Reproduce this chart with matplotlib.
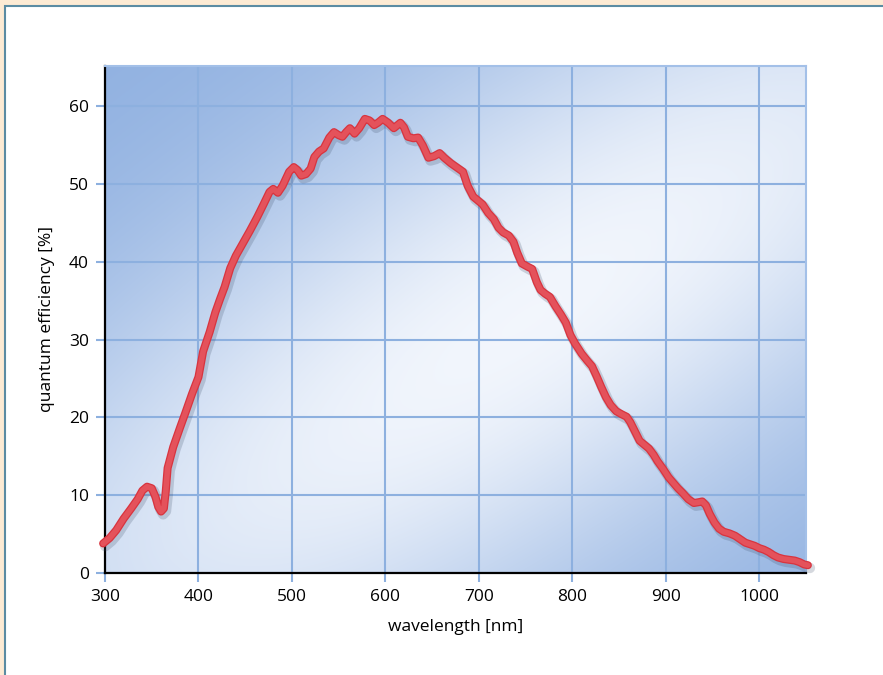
import numpy as np
import matplotlib.pyplot as plt
import matplotlib.patheffects as pe
from matplotlib.patches import Rectangle

plt.rcParams['font.family'] = ['Open Sans', 'DejaVu Sans']

# quantum efficiency curve
wavelength = [298, 305, 312, 320, 328, 335, 340, 345, 350, 354, 357, 360, 363, 365,
              367, 373, 380, 386, 393, 400, 405, 412, 418, 423, 428, 434, 440, 447,
              455, 463, 470, 476, 480, 485, 490, 497, 502, 506, 510, 515, 520, 524,
              529, 534, 540, 545, 550, 554, 558, 562, 567, 572, 578, 583, 588, 592,
              597, 603, 609, 616, 620, 624, 630, 635, 640, 646, 652, 658, 663, 670,
              676, 683, 688, 694, 700, 704, 710, 716, 721, 726, 732, 737, 741, 746,
              752, 757, 762, 766, 771, 776, 782, 788, 793, 798, 803, 810, 816, 821,
              826, 831, 836, 841, 847, 853, 858, 862, 867, 872, 877, 882, 887, 891,
              897, 903, 908, 913, 918, 924, 930, 935, 939, 943, 947, 952, 957, 962,
              968, 974, 980, 985, 990, 995, 1000, 1005, 1010, 1015, 1020, 1026, 1032,
              1038, 1043, 1048, 1052]
qe = [3.8, 4.5, 5.5, 7.0, 8.3, 9.5, 10.6, 11.1, 10.9, 9.8, 8.5, 7.9, 8.3, 10.5,
      13.5, 16.2, 18.6, 20.6, 23.0, 25.2, 28.5, 31.0, 33.5, 35.2, 36.8, 39.2, 40.8, 42.3,
      44.0, 45.8, 47.5, 49.0, 49.4, 48.9, 49.8, 51.6, 52.2, 51.8, 51.1, 51.3, 52.0, 53.5,
      54.2, 54.6, 56.0, 56.7, 56.3, 56.1, 56.7, 57.2, 56.5, 57.2, 58.4, 58.2, 57.6, 57.9,
      58.4, 57.9, 57.2, 57.9, 57.3, 56.1, 55.9, 56.0, 55.0, 53.4, 53.6, 54.0, 53.4, 52.7,
      52.2, 51.6, 49.8, 48.4, 47.8, 47.4, 46.3, 45.5, 44.4, 43.8, 43.4, 42.6, 41.2, 39.8,
      39.4, 39.1, 37.4, 36.4, 35.9, 35.5, 34.3, 33.2, 32.2, 30.6, 29.5, 28.2, 27.3, 26.6,
      25.3, 23.9, 22.6, 21.6, 20.8, 20.4, 20.1, 19.4, 18.2, 17.0, 16.5, 16.0, 15.2, 14.4,
      13.4, 12.3, 11.6, 10.9, 10.3, 9.5, 9.0, 9.1, 9.2, 8.7, 7.6, 6.5, 5.7, 5.3,
      5.1, 4.8, 4.3, 3.9, 3.7, 3.5, 3.2, 3.0, 2.7, 2.3, 2.0, 1.8, 1.7,
      1.6, 1.4, 1.1, 1.0]

xticks = [300, 400, 500, 600, 700, 800, 900, 1000]
yticks = [0, 10, 20, 30, 40, 50, 60]

grid_col = '#8db0df'

fig = plt.figure(figsize=(8.83, 6.75), dpi=100)
fig.patch.set_facecolor('#fdebd4')
fig.patches.append(Rectangle((5 / 883, -0.1), 1.2, 1.1 - 6 / 675,
                             transform=fig.transFigure, facecolor='white',
                             edgecolor='#5b8ca3', linewidth=1.5, zorder=-5))

ax = fig.add_axes([105 / 883, 102 / 675, 701 / 883, 507 / 675])
ax.set_zorder(2)
ax.set_xlim(300, 1050)
ax.set_ylim(0, 65.2)

# soft diagonal blue background gradient
u = np.linspace(0, 1, 300)
w = np.linspace(0, 1, 220)
U, W = np.meshgrid(u, w)
s = (U + W) / 2
r2 = (U - 0.6) ** 2 + (W - 0.5) ** 2
f = np.exp(-((s - 0.55) / 0.32) ** 2) * (1 - 0.5 * r2)
dark = np.array([0.56, 0.69, 0.88])
light = np.array([0.95, 0.965, 0.99])
img = dark[None, None, :] + (light - dark)[None, None, :] * f[:, :, None]
ax.imshow(img, extent=[300, 1050, 0, 65.2], aspect='auto', origin='upper',
          zorder=-1, interpolation='bilinear')

ax.set_axisbelow(True)
ax.grid(True, color=grid_col, linewidth=1.5)
ax.set_xticks(xticks)
ax.set_yticks(yticks)
ax.tick_params(direction='out', length=6.5, width=1.5, color=grid_col,
               labelcolor='black', labelsize=12.5, pad=5)

for side in ['left', 'bottom']:
    ax.spines[side].set_color('black')
    ax.spines[side].set_linewidth(1.6)
for side in ['top', 'right']:
    ax.spines[side].set_color('#a3c0e8')
    ax.spines[side].set_linewidth(1.5)

ax.plot(wavelength, qe, color='#e4525b', linewidth=4.0, solid_capstyle='round',
        solid_joinstyle='round', clip_on=False, zorder=5,
        path_effects=[pe.SimpleLineShadow(offset=(1.5, -2), shadow_color='#40506a',
                                          alpha=0.22, linewidth=7.5),
                      pe.Stroke(linewidth=5.8, foreground='#d8343f',
                                joinstyle='round', capstyle='round'),
                      pe.Normal()])

ax.set_xlabel('wavelength [nm]', fontsize=12.5, labelpad=10)
ax.set_ylabel('quantum efficiency [%]', fontsize=12.5, labelpad=10)

fig.savefig('out.png', dpi=100, facecolor=fig.get_facecolor())
